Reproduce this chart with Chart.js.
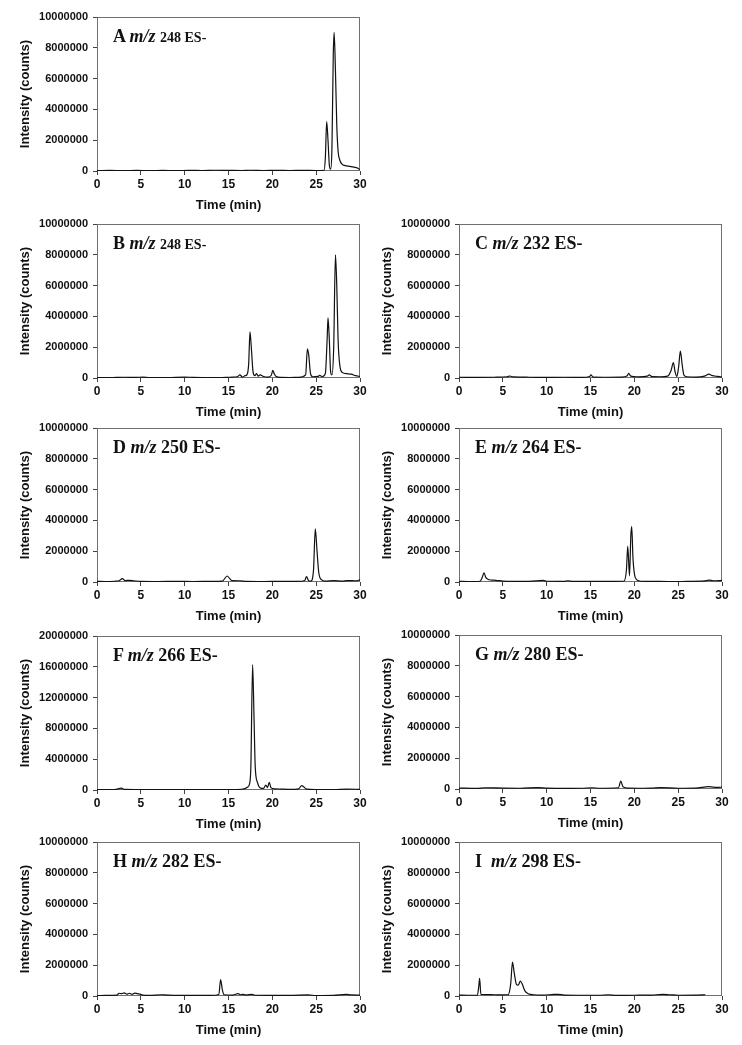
<!DOCTYPE html>
<html>
<head>
<meta charset="utf-8">
<script src="https://cdn.jsdelivr.net/npm/chart.js@4.4.1/dist/chart.umd.min.js"></script>
<style>
  body { margin: 0; background: #fff; width: 742px; height: 1045px; position: relative; overflow: hidden; }
  .panel { position: absolute; }
  .lbl {
    position: absolute; white-space: pre; color: #111;
    font-family: "Liberation Serif", "Times New Roman", serif;
    font-weight: bold; font-size: 18px; line-height: 18px;
  }
  .lbl .sm { font-size: 14px; }
</style>
</head>
<body>
<script>
// chromatogram traces, [time (min), intensity (counts)]
const traceA = [[0,20000],[1.5,40000],[3,20000],[4.5,40000],[6,25000],[7.5,35000],[9,20000],[10.5,40000],[12,30000],[13.5,50000],[15,40000],[16.5,30000],[17.5,50000],[19,30000],[20.5,40000],[22,30000],[23.5,40000],[25,30000],[25.9,50000],[26.05,900000],[26.2,3200000],[26.35,2000000],[26.5,400000],[26.65,120000],[26.8,1500000],[26.95,7500000],[27.05,9000000],[27.2,6500000],[27.35,3000000],[27.5,1300000],[27.7,700000],[27.95,450000],[28.3,350000],[28.8,300000],[29.3,250000],[29.7,200000],[30,80000]];
const traceB = [[0,30000],[1.5,20000],[3,50000],[4.5,40000],[5.2,60000],[6,30000],[8,20000],[10,60000],[11,40000],[12.5,30000],[14,20000],[15.2,50000],[16,80000],[16.3,200000],[16.6,60000],[16.9,150000],[17.1,200000],[17.3,900000],[17.45,3000000],[17.6,2000000],[17.8,400000],[18.0,150000],[18.2,280000],[18.4,120000],[18.6,200000],[19,100000],[19.5,60000],[19.9,200000],[20.05,500000],[20.2,300000],[20.4,120000],[21,40000],[22,30000],[23,40000],[23.8,200000],[24.0,1900000],[24.15,1500000],[24.35,300000],[24.6,80000],[25.2,100000],[25.4,170000],[25.7,80000],[26.05,300000],[26.25,2500000],[26.35,3900000],[26.5,2500000],[26.65,400000],[26.8,200000],[27.0,2000000],[27.2,8000000],[27.35,6000000],[27.5,2500000],[27.7,800000],[28,350000],[28.5,280000],[29,250000],[29.5,150000],[30,100000]];
const traceC = [[0,50000],[2,40000],[4,50000],[5.5,80000],[5.8,130000],[6.2,70000],[8,50000],[10,40000],[12,50000],[14,40000],[14.9,100000],[15.05,200000],[15.3,60000],[17,50000],[18.5,60000],[19.2,150000],[19.35,300000],[19.6,120000],[20,90000],[20.5,70000],[21.5,120000],[21.7,200000],[22,90000],[23,80000],[23.8,120000],[24.2,500000],[24.45,1000000],[24.65,400000],[24.85,100000],[25.05,700000],[25.25,1750000],[25.45,900000],[25.65,200000],[26,80000],[27,60000],[28,120000],[28.5,250000],[28.9,150000],[29.5,100000],[30,60000]];
const traceD = [[0,40000],[1,30000],[2,50000],[2.5,80000],[2.9,220000],[3.2,90000],[3.7,110000],[4.2,80000],[5,40000],[7,30000],[9,40000],[11,30000],[13,40000],[14.3,60000],[14.85,390000],[15.1,250000],[15.4,90000],[16.3,80000],[17,40000],[19,30000],[21,40000],[23,40000],[23.7,100000],[23.9,350000],[24.15,80000],[24.4,60000],[24.7,800000],[24.9,3450000],[25.1,2000000],[25.3,600000],[25.6,150000],[26,60000],[27,90000],[28,60000],[28.5,90000],[29.5,80000],[30,140000]];
const traceE = [[0,40000],[1,30000],[2.4,50000],[2.65,300000],[2.85,600000],[3.05,300000],[3.3,180000],[3.6,130000],[4.2,110000],[5,60000],[6,40000],[8,40000],[9.6,100000],[10,50000],[12,40000],[12.4,80000],[13,40000],[15,40000],[17,40000],[18.8,50000],[19.1,800000],[19.25,2330000],[19.45,400000],[19.6,3000000],[19.7,3600000],[19.85,1500000],[20.1,300000],[20.5,80000],[21,40000],[23,40000],[24.5,20000],[26,40000],[28,70000],[28.5,120000],[29,80000],[30,100000]];
const traceF = [[0,50000],[2,60000],[2.8,250000],[3.1,80000],[5,60000],[7,50000],[9,40000],[11,60000],[13,40000],[15,60000],[16.5,100000],[17.2,400000],[17.4,800000],[17.55,3000000],[17.75,16300000],[17.9,10000000],[18.05,3000000],[18.3,1000000],[18.6,300000],[19,200000],[19.25,650000],[19.45,300000],[19.65,1000000],[19.85,300000],[20.3,150000],[21,120000],[22,80000],[23,150000],[23.35,570000],[23.6,400000],[23.9,120000],[25,60000],[27,50000],[28.5,120000],[30,80000]];
const traceG = [[0,60000],[2,40000],[3,80000],[5,60000],[7,50000],[9,90000],[10,60000],[12,40000],[14,50000],[15.2,80000],[16,50000],[18.2,80000],[18.45,520000],[18.7,150000],[19.3,60000],[21,50000],[22,60000],[23,90000],[25,50000],[27,60000],[28.5,150000],[29.5,100000],[30,120000]];
const traceH = [[0,30000],[1,40000],[2.3,60000],[2.5,180000],[2.8,150000],[3.1,200000],[3.4,120000],[3.7,180000],[4.0,100000],[4.3,190000],[4.6,150000],[4.9,120000],[5.2,60000],[6,40000],[7.3,80000],[8,60000],[9,40000],[11,40000],[13,40000],[13.9,100000],[14.1,1060000],[14.3,400000],[14.5,80000],[15.5,60000],[16.1,160000],[16.4,80000],[16.6,110000],[17,60000],[17.7,110000],[18,50000],[20,40000],[22,40000],[24.1,70000],[25,30000],[27,40000],[28.4,110000],[29,70000],[30,60000]];
const traceI = [[0,60000],[1,50000],[2.1,60000],[2.25,600000],[2.35,1140000],[2.5,100000],[3,90000],[4,80000],[5,70000],[5.6,80000],[5.9,800000],[6.1,2200000],[6.3,1500000],[6.55,750000],[6.75,700000],[7.0,960000],[7.2,800000],[7.5,350000],[7.9,150000],[8.5,80000],[9.5,60000],[10.8,100000],[11.3,110000],[12,60000],[14,50000],[16,50000],[17,80000],[18,40000],[20,50000],[22,60000],[23.2,100000],[24,80000],[25,50000],[27,60000],[28.1,80000]];

// panel labels and axis ranges
const letters = ['A', 'B', 'C', 'D', 'E', 'F', 'G', 'H', 'I'];
const mzValues = ['248', '248', '232', '250', '264', '266', '280', '282', '298'];
const yMaxes = [10000000, 10000000, 10000000, 10000000, 10000000, 20000000, 10000000, 10000000, 10000000];
const yStepSizes = [2000000, 2000000, 2000000, 2000000, 2000000, 4000000, 2000000, 2000000, 2000000];
const xTickStep = 5;
const traces = [traceA, traceB, traceC, traceD, traceE, traceF, traceG, traceH, traceI];

// where each plot area sits on the page
const panelLeft = [8, 8, 370, 8, 370, 8, 370, 8, 370];
const plotTop = [17, 224, 224, 428, 428, 636, 635, 842, 842];

const CW = 362, CH = 217, PAD_TOP = 17, Y_AXIS_W = 89, X_AXIS_H = 46;
const sans = '"Liberation Sans", Arial, sans-serif';

const framePlugin = {
  id: 'frame',
  beforeDatasetsDraw(chart) {
    const { ctx, chartArea: a } = chart;
    ctx.save();
    ctx.strokeStyle = '#707070';
    ctx.lineWidth = 1;
    ctx.strokeRect(Math.round(a.left) + 0.5, Math.round(a.top) + 0.5, Math.round(a.width) - 1, Math.round(a.height) - 1);
    ctx.restore();
  }
};

traces.forEach((trace, i) => {
  const wrap = document.createElement('div');
  wrap.className = 'panel';
  wrap.style.left = panelLeft[i] + 'px';
  wrap.style.top = (plotTop[i] - PAD_TOP) + 'px';
  wrap.style.width = CW + 'px';
  wrap.style.height = CH + 'px';
  const canvas = document.createElement('canvas');
  canvas.width = CW;
  canvas.height = CH;
  wrap.appendChild(canvas);
  document.body.appendChild(wrap);

  const lbl = document.createElement('div');
  lbl.className = 'lbl';
  lbl.style.left = (panelLeft[i] + Y_AXIS_W + 16) + 'px';
  lbl.style.top = (plotTop[i] + 10) + 'px';
  const gap = letters[i] === 'I' ? '  ' : ' ';
  const rest = mzValues[i] + ' ES-';
  lbl.innerHTML = letters[i] + gap + '<i>m/z</i> ' + (i < 2 ? '<span class="sm">' + rest + '</span>' : rest);
  document.body.appendChild(lbl);

  new Chart(canvas, {
    type: 'line',
    data: {
      datasets: [{
        data: trace.map(([x, y]) => ({ x, y })),
        borderColor: '#111',
        borderWidth: 1.2,
        pointRadius: 0,
        fill: false,
        cubicInterpolationMode: 'monotone'
      }]
    },
    options: {
      responsive: false,
      animation: false,
      devicePixelRatio: 1,
      layout: { padding: { top: PAD_TOP, right: 10, left: 0, bottom: 0 } },
      plugins: { legend: { display: false }, tooltip: { enabled: false } },
      scales: {
        x: {
          type: 'linear',
          min: 0,
          max: 30,
          afterFit: (s) => { s.height = X_AXIS_H; },
          grid: { drawOnChartArea: false, drawTicks: true, tickLength: 4, color: '#444' },
          border: { display: false },
          ticks: { stepSize: xTickStep, color: '#111', padding: 2, font: { family: sans, weight: 'bold', size: 12 } },
          title: { display: true, text: 'Time (min)', color: '#111', padding: { top: 0, bottom: 4 }, font: { family: sans, weight: 'bold', size: 13 } }
        },
        y: {
          min: 0,
          max: yMaxes[i],
          afterFit: (s) => { s.width = Y_AXIS_W; },
          grid: { drawOnChartArea: false, drawTicks: true, tickLength: 4, color: '#444' },
          border: { display: false },
          ticks: { stepSize: yStepSizes[i], color: '#111', padding: 5, font: { family: sans, weight: 'bold', size: 11 }, callback: (v) => String(v) },
          title: { display: true, text: 'Intensity (counts)', color: '#111', padding: { top: 10, bottom: 0 }, font: { family: sans, weight: 'bold', size: 13 } }
        }
      }
    },
    plugins: [framePlugin]
  });
});
</script>
</body>
</html>
